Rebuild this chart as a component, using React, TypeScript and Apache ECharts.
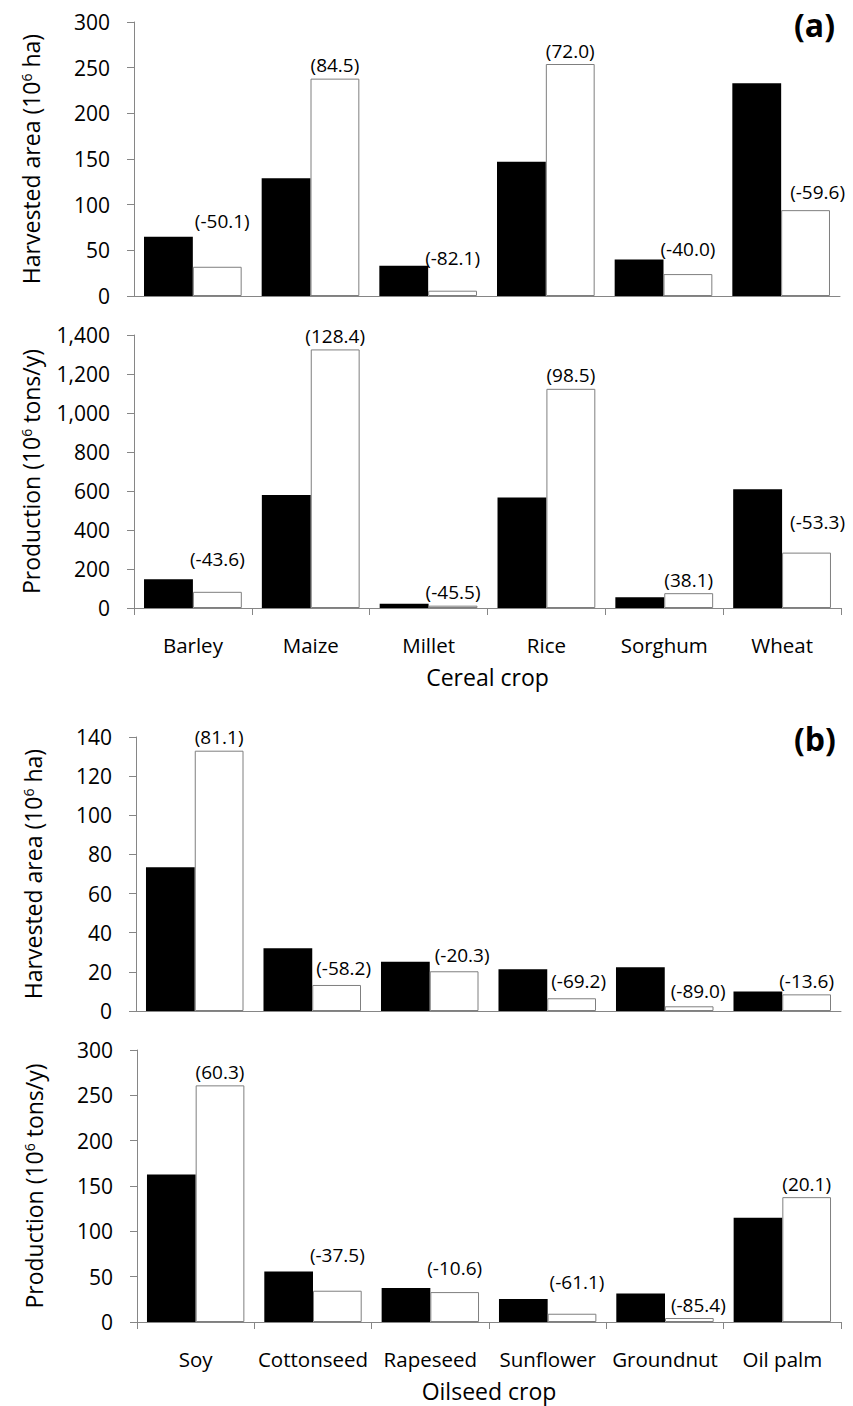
import React, { useEffect, useRef } from "react";
import * as echarts from "echarts";

const cerealCrops = ["Barley", "Maize", "Millet", "Rice", "Sorghum", "Wheat"];
const oilseedCrops = ["Soy", "Cottonseed", "Rapeseed", "Sunflower", "Groundnut", "Oil palm"];

const cerealAreaCurrent = [65, 129, 33, 147, 40, 233];
const cerealAreaOptimal = [32, 238, 5.8, 254, 24, 94];
const cerealAreaChange = ["(-50.1)", "(84.5)", "(-82.1)", "(72.0)", "(-40.0)", "(-59.6)"];

const cerealProdCurrent = [147, 580, 22, 567, 55, 609];
const cerealProdOptimal = [83, 1326, 12, 1124, 76, 284];
const cerealProdChange = ["(-43.6)", "(128.4)", "(-45.5)", "(98.5)", "(38.1)", "(-53.3)"];

const oilAreaCurrent = [73.5, 32, 25.2, 21.3, 22.3, 9.9];
const oilAreaOptimal = [133, 13.3, 20.3, 6.5, 2.4, 8.5];
const oilAreaChange = ["(81.1)", "(-58.2)", "(-20.3)", "(-69.2)", "(-89.0)", "(-13.6)"];

const oilProdCurrent = [162.6, 55.8, 37.4, 25.3, 31.5, 114.9];
const oilProdOptimal = [261, 34.5, 33, 9.1, 4.4, 137.7];
const oilProdChange = ["(60.3)", "(-37.5)", "(-10.6)", "(-61.1)", "(-85.4)", "(20.1)"];

// label nudges (style only)
const offsets1 = [[5, -32], [0, 0], [0, -19], [0, 0], [0, -12], [12, -5]];
const offsets2 = [[0, -19], [0, 0], [0, 0], [0, 0], [0, 0], [11, -17]];
const offsets3 = [[0, 0], [7, -3], [8, -3], [7, -4], [9, -2], [0, 0]];
const offsets4 = [[0, 0], [0, -22], [0, -11], [5, -18], [9, 0], [0, 0]];

const FONT = "Open Sans";
const AXIS_GRAY = "#868686";

export default function App() {
  const ref = useRef<HTMLDivElement>(null);
  useEffect(() => {
    document.body.style.margin = "0";
    const chart = echarts.init(ref.current!, null, { renderer: "svg" });

    const grids = [
      { left: 134, top: 22, width: 706, height: 274 },
      { left: 134, top: 335, width: 707, height: 273 },
      { left: 136, top: 737, width: 705, height: 274 },
      { left: 137, top: 1050, width: 704, height: 272 },
    ];

    const xAxes = [
      { cats: cerealCrops, labels: false, name: "" },
      { cats: cerealCrops, labels: true, name: "Cereal crop" },
      { cats: oilseedCrops, labels: false, name: "" },
      { cats: oilseedCrops, labels: true, name: "Oilseed crop" },
    ].map((a, i) => ({
      type: "category",
      gridIndex: i,
      data: a.cats,
      boundaryGap: true,
      axisLine: { show: true, lineStyle: { color: AXIS_GRAY, width: 1 } },
      axisTick: { show: a.labels, length: 7, interval: 0, lineStyle: { color: AXIS_GRAY } },
      axisLabel: {
        show: a.labels,
        interval: 0,
        hideOverlap: false,
        color: "#000",
        fontSize: 20.5,
        fontFamily: FONT,
        margin: 26,
      },
      name: a.name,
      nameLocation: "middle",
      nameGap: 57,
      nameTextStyle: { color: "#000", fontSize: 23, fontFamily: FONT },
    }));

    const yDefs = [
      { max: 300, interval: 50, name: "Harvested area (10{s|6} ha)" },
      { max: 1400, interval: 200, name: "Production (10{s|6} tons/y)" },
      { max: 140, interval: 20, name: "Harvested area (10{s|6} ha)" },
      { max: 300, interval: 50, name: "Production (10{s|6} tons/y)" },
    ];
    const yAxes = yDefs.map((d, i) => ({
      type: "value",
      gridIndex: i,
      min: 0,
      max: d.max,
      interval: d.interval,
      splitLine: { show: false },
      axisLine: { show: true, lineStyle: { color: AXIS_GRAY, width: 1 } },
      axisTick: { show: true, length: 7, lineStyle: { color: AXIS_GRAY } },
      axisLabel: {
        color: "#000",
        fontSize: 21,
        fontFamily: FONT,
        margin: 24,
        formatter: (v: number) => v.toLocaleString("en-US"),
      },
      name: d.name,
      nameLocation: "middle",
      nameRotate: 90,
      nameGap: 92,
      nameTextStyle: {
        color: "#000",
        fontSize: 23,
        fontFamily: FONT,
        rich: { s: { fontSize: 14, fontFamily: FONT, color: "#000", verticalAlign: "top" } },
      },
    }));

    const sets = [
      { cur: cerealAreaCurrent, opt: cerealAreaOptimal, lab: cerealAreaChange, off: offsets1 },
      { cur: cerealProdCurrent, opt: cerealProdOptimal, lab: cerealProdChange, off: offsets2 },
      { cur: oilAreaCurrent, opt: oilAreaOptimal, lab: oilAreaChange, off: offsets3 },
      { cur: oilProdCurrent, opt: oilProdOptimal, lab: oilProdChange, off: offsets4 },
    ];

    const series: any[] = [];
    sets.forEach((s, i) => {
      series.push({
        type: "bar",
        xAxisIndex: i,
        yAxisIndex: i,
        data: s.cur,
        barGap: "0%",
        barCategoryGap: "17%",
        itemStyle: { color: "#000" },
      });
      series.push({
        type: "bar",
        xAxisIndex: i,
        yAxisIndex: i,
        barGap: "0%",
        barCategoryGap: "17%",
        itemStyle: { color: "#fff", borderColor: "#7f7f7f", borderWidth: 1 },
        label: {
          show: true,
          position: "top",
          distance: 4,
          color: "#000",
          fontSize: 19,
          fontFamily: FONT,
          formatter: (p: any) => s.lab[p.dataIndex],
        },
        data: s.opt.map((v, k) => ({ value: v, label: { offset: s.off[k] } })),
      });
    });

    chart.setOption({
      animation: false,
      backgroundColor: "#fff",
      grid: grids,
      xAxis: xAxes,
      yAxis: yAxes,
      series,
      graphic: [
        {
          type: "text",
          left: 794,
          top: 8,
          style: { text: "(a)", font: `bold 32px "${FONT}"`, fill: "#000" },
        },
        {
          type: "text",
          left: 794,
          top: 722,
          style: { text: "(b)", font: `bold 32px "${FONT}"`, fill: "#000" },
        },
      ],
    });
    return () => chart.dispose();
  }, []);
  return <div ref={ref} style={{ width: 853, height: 1406 }} />;
}
